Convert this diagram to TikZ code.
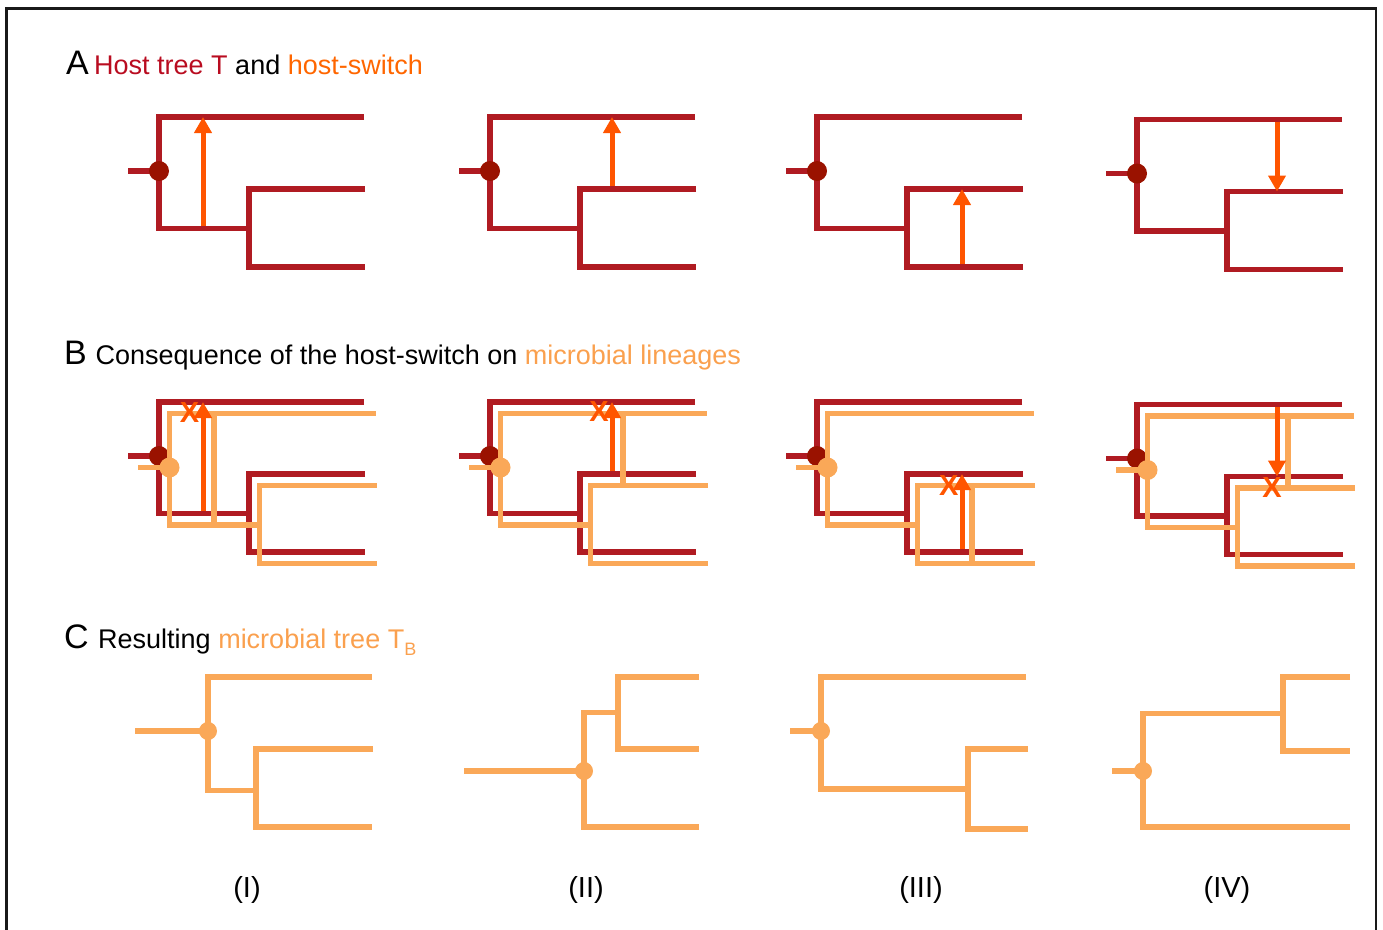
\documentclass[tikz,border=0pt]{standalone}
\usepackage{fontspec}
\setmainfont{Liberation Sans}
\usetikzlibrary{arrows.meta}

\definecolor{hostred}{RGB}{176,27,34}
\definecolor{hostdot}{RGB}{154,18,0}
\definecolor{switchor}{RGB}{255,85,0}
\definecolor{microbe}{RGB}{250,168,88}
\definecolor{hosttext}{RGB}{185,12,32}
\definecolor{switchtext}{RGB}{255,102,0}
\definecolor{microtext}{RGB}{250,160,78}

\tikzset{
  branch/.style={line width=5.5pt, line join=miter, line cap=butt},
  hostline/.style={branch, draw=hostred},
  microline/.style={branch, draw=microbe},
  hostnode/.style={fill=hostdot},
  micronode/.style={fill=microbe},
  switcharrow/.style={draw=switchor, line width=5pt, -{Triangle[length=16pt,width=17pt]}},
  lossmark/.style={text=switchor, font=\bfseries\fontsize{29}{29}\selectfont, inner sep=0pt},
  heading/.style={anchor=base west, inner sep=0pt, font=\fontsize{27}{32}\selectfont},
  panelletter/.style={anchor=base west, inner sep=0pt, font=\fontsize{34}{40}\selectfont},
  caselabel/.style={anchor=base, inner sep=0pt, font=\fontsize{29}{34}\selectfont},
  % host tree, drawn relative to its root
  pics/hosttree/.style={code={
    \draw[hostline] (-31,0) -- (0,0);
    \draw[hostline] (205,-54) -- (0,-54) -- (0,57.5) -- (90,57.5);
    \draw[hostline] (206,18) -- (90,18) -- (90,96) -- (206,96);
    \fill[hostnode] (0,0) circle[radius=10pt];
  }},
  % microbial lineages following the host tree, relative to their root
  pics/microtree/.style={code={
    \draw[microline] (-31.5,0) -- (0,0);
    \draw[microline] (206,-54) -- (0,-54) -- (0,57.5) -- (90,57.5);
    \draw[microline] (207,18) -- (90,18) -- (90,96) -- (207,96);
    \fill[micronode] (0,0) circle[radius=10pt];
  }},
}

\begin{document}
\begin{tikzpicture}[x=1pt,y=-1pt]
\useasboundingbox (0,0) rectangle (1383,929);

% frame
\draw[line width=2.2pt, black!90] (6.5,935) -- (6.5,8.5) -- (1376,8.5) -- (1376,935);

% ---------- headings ----------
\node[panelletter] (letA) at (66,74) {A};
\node[heading] (headA) at (94,74) {\textcolor{hosttext}{Host tree T} and \textcolor{switchtext}{host-switch}};
\node[panelletter] (letB) at (64,364) {B};
\node[heading] (headB) at (95.5,364) {Consequence of the host-switch on \textcolor{microtext}{microbial lineages}};
\node[panelletter] (letC) at (64,648) {C};
\node[heading] (headC) at (98,648) {Resulting \textcolor{microtext}{microbial tree T\raisebox{-7pt}{\fontsize{18}{18}\selectfont B}}};

% ---------- row A: host tree with the host-switch ----------
\begin{scope}[shift={(159,171)}]
  \pic {hosttree};
  \draw[switcharrow] (44,54.75) -- (44,-54);
\end{scope}
\begin{scope}[shift={(490,171)}]
  \pic {hosttree};
  \draw[switcharrow] (122,15.25) -- (122,-54);
\end{scope}
\begin{scope}[shift={(817,171)}]
  \pic {hosttree};
  \draw[switcharrow] (145,93.25) -- (145,18);
\end{scope}
\begin{scope}[shift={(1137,173.5)}]
  \pic {hosttree};
  \draw[switcharrow] (140,-51.25) -- (140,18);
\end{scope}

% ---------- row B: microbial lineages inside the host tree ----------
\begin{scope}[shift={(159,456)}]
  \pic {hosttree};
  \begin{scope}[shift={(10.5,11.5)}]
    \pic {microtree};
    \draw[microline] (44.5,-54) -- (44.5,57.5);
  \end{scope}
  \draw[switcharrow] (44,54.75) -- (44,-54);
  \node[lossmark] (lossI) at (30.5,-43) {X};
\end{scope}
\begin{scope}[shift={(490,456)}]
  \pic {hosttree};
  \begin{scope}[shift={(10.5,11.5)}]
    \pic {microtree};
    \draw[microline] (122.5,-54) -- (122.5,18);
  \end{scope}
  \draw[switcharrow] (122,15.25) -- (122,-54);
  \node[lossmark] (lossII) at (109,-44) {X};
\end{scope}
\begin{scope}[shift={(817,456)}]
  \pic {hosttree};
  \begin{scope}[shift={(10.5,11.5)}]
    \pic {microtree};
    \draw[microline] (144.5,18) -- (144.5,96);
  \end{scope}
  \draw[switcharrow] (145,93.25) -- (145,18);
  \node[lossmark] (lossIII) at (131.7,30) {X};
\end{scope}
\begin{scope}[shift={(1137,458.5)}]
  \pic {hosttree};
  \begin{scope}[shift={(10.5,11.5)}]
    \pic {microtree};
    \draw[microline] (140.5,-54) -- (140.5,18);
  \end{scope}
  \draw[switcharrow] (140,-51.25) -- (140,18);
  \node[lossmark] (lossIV) at (135,29) {X};
\end{scope}

% ---------- row C: resulting microbial trees ----------
% (I)
\draw[microline] (135,731) -- (208,731);
\draw[microline] (372,677) -- (208,677) -- (208,790.5) -- (256,790.5);
\draw[microline] (373,749) -- (256,749) -- (256,827) -- (372,827);
\fill[micronode] (208,731) circle[radius=9pt];
% (II)
\draw[microline] (464,771) -- (584,771);
\draw[microline] (699,827) -- (584,827) -- (584,712.5) -- (618,712.5);
\draw[microline] (699,677) -- (618,677) -- (618,749) -- (699,749);
\fill[micronode] (584,771) circle[radius=9pt];
% (III)
\draw[microline] (790,731) -- (821,731);
\draw[microline] (1026,677) -- (821,677) -- (821,789) -- (968,789);
\draw[microline] (1028,749) -- (968,749) -- (968,829) -- (1028,829);
\fill[micronode] (821,731) circle[radius=9pt];
% (IV)
\draw[microline] (1112,771) -- (1143,771);
\draw[microline] (1350,827) -- (1143,827) -- (1143,713.5) -- (1283,713.5);
\draw[microline] (1350,677) -- (1283,677) -- (1283,751) -- (1350,751);
\fill[micronode] (1143,771) circle[radius=9pt];

% ---------- case labels ----------
\node[caselabel] (caseI) at (247,897) {(I)};
\node[caselabel] (caseII) at (586,897) {(II)};
\node[caselabel] (caseIII) at (921,897) {(III)};
\node[caselabel] (caseIV) at (1227,897) {(IV)};
\end{tikzpicture}
\end{document}
